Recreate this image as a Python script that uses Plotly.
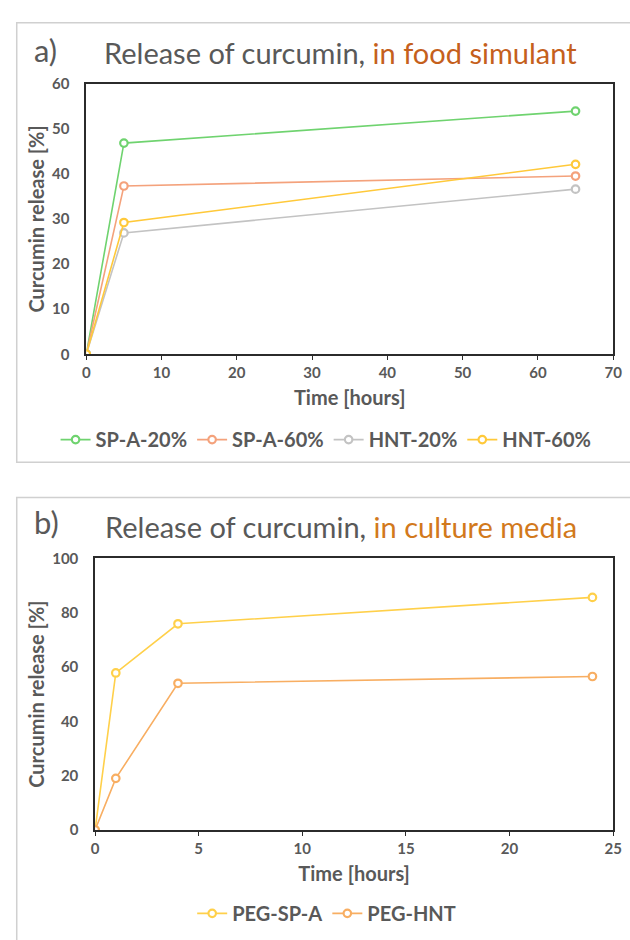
import plotly.graph_objects as go

# ---- data ----
time_a = [0, 5, 65]
spa20 = [0, 46.8, 53.9]
spa60 = [0, 37.3, 39.5]
hnt20 = [0, 26.9, 36.6]
hnt60 = [0, 29.2, 42.1]

time_b = [0, 1, 4, 24]
peg_spa = [0, 57.8, 75.9, 85.6]
peg_hnt = [0, 19.0, 54.0, 56.5]

names_a = ["SP-A-20%", "SP-A-60%", "HNT-20%", "HNT-60%"]
names_b = ["PEG-SP-A", "PEG-HNT"]
colors_a = ["#6FD36F", "#F4A27C", "#C3C3C3", "#FFC93A"]
colors_b = ["#FFD04A", "#F8AE62"]

W, H = 630, 940
FONT = "Lato"
GRAY = "#595959"

fig = go.Figure()

for name, ys, col in zip(names_a, [spa20, spa60, hnt20, hnt60], colors_a):
    fig.add_trace(go.Scatter(
        x=time_a, y=ys, name=name, mode="lines+markers",
        line=dict(color=col, width=1.6),
        marker=dict(symbol="circle", size=7.5, color="white", line=dict(color=col, width=2.2)),
        xaxis="x", yaxis="y", legend="legend"))

for name, ys, col in zip(names_b, [peg_spa, peg_hnt], colors_b):
    fig.add_trace(go.Scatter(
        x=time_b, y=ys, name=name, mode="lines+markers",
        line=dict(color=col, width=1.6),
        marker=dict(symbol="circle", size=7.5, color="white", line=dict(color=col, width=2.2)),
        xaxis="x2", yaxis="y2", legend="legend2"))

def px_x(p):
    return p / W

def px_y(p):
    return 1 - p / H

tickfont = dict(family=FONT, size=15, color=GRAY, weight="bold")
titlefont = dict(family=FONT, size=20, color=GRAY, weight="bold")

axis_common = dict(showgrid=False, zeroline=False, showline=True, linecolor="#2b2b2b",
                   linewidth=1.5, mirror=True, tickfont=tickfont, ticklabeloverflow="allow")

fig.update_layout(
    width=W, height=H, margin=dict(l=0, r=0, t=0, b=0),
    paper_bgcolor="white", plot_bgcolor="white",
    showlegend=True,
    xaxis=dict(axis_common, domain=[px_x(84), px_x(622)], range=[0, 70], dtick=10,
               ticks="outside", ticklen=4, tickcolor="#2b2b2b", ticklabelstandoff=0,
               title=dict(text="Time [hours]", font=titlefont, standoff=11), anchor="y"),
    yaxis=dict(axis_common, domain=[px_y(351), px_y(75)], range=[0, 60], dtick=10,
               ticks="", ticklabelstandoff=12,
               title=dict(text="Curcumin release [%]", font=titlefont, standoff=2),
               anchor="x"),
    xaxis2=dict(axis_common, domain=[px_x(93), px_x(622)], range=[0, 25], dtick=5,
                ticks="outside", ticklen=4, tickcolor="#2b2b2b", ticklabelstandoff=0,
                title=dict(text="Time [hours]", font=titlefont, standoff=11), anchor="y2"),
    yaxis2=dict(axis_common, domain=[px_y(836), px_y(559)], range=[0, 100], dtick=20,
                ticks="", ticklabelstandoff=12,
                title=dict(text="Curcumin release [%]", font=titlefont, standoff=2),
                anchor="x2"),
    legend=dict(orientation="h", x=0.522, xanchor="center", y=px_y(438), yanchor="middle",
                font=dict(family=FONT, size=20, color=GRAY, weight="bold"),
                itemwidth=30, tracegroupgap=0, bgcolor="rgba(0,0,0,0)"),
    legend2=dict(orientation="h", x=0.523, xanchor="center", y=px_y(921), yanchor="middle",
                 font=dict(family=FONT, size=20, color=GRAY, weight="bold"),
                 itemwidth=30, bgcolor="rgba(0,0,0,0)"),
)

# outer panel boxes
fig.add_shape(type="rect", xref="paper", yref="paper",
              x0=px_x(13), x1=px_x(640), y0=px_y(461), y1=px_y(13),
              line=dict(color="#D0D0D0", width=1.5), fillcolor="rgba(0,0,0,0)", layer="below")
fig.add_shape(type="rect", xref="paper", yref="paper",
              x0=px_x(13), x1=px_x(640), y0=px_y(950), y1=px_y(497),
              line=dict(color="#D0D0D0", width=1.5), fillcolor="rgba(0,0,0,0)", layer="below")

# panel titles
fig.add_annotation(text="a)", xref="paper", yref="paper", x=px_x(29), y=px_y(41),
                   xanchor="left", yanchor="middle", showarrow=False,
                   font=dict(family=FONT, size=31, color=GRAY))
fig.add_annotation(text="Release of curcumin, <span style='color:#C5601C'>in food simulant</span>",
                   xref="paper", yref="paper", x=px_x(344), y=px_y(43),
                   xanchor="center", yanchor="middle", showarrow=False,
                   font=dict(family=FONT, size=29, color=GRAY))
fig.add_annotation(text="b)", xref="paper", yref="paper", x=px_x(29), y=px_y(522),
                   xanchor="left", yanchor="middle", showarrow=False,
                   font=dict(family=FONT, size=31, color=GRAY))
fig.add_annotation(text="Release of curcumin, <span style='color:#D2791C'>in culture media</span>",
                   xref="paper", yref="paper", x=px_x(344), y=px_y(527),
                   xanchor="center", yanchor="middle", showarrow=False,
                   font=dict(family=FONT, size=29, color=GRAY))

fig.write_html("out.html")
